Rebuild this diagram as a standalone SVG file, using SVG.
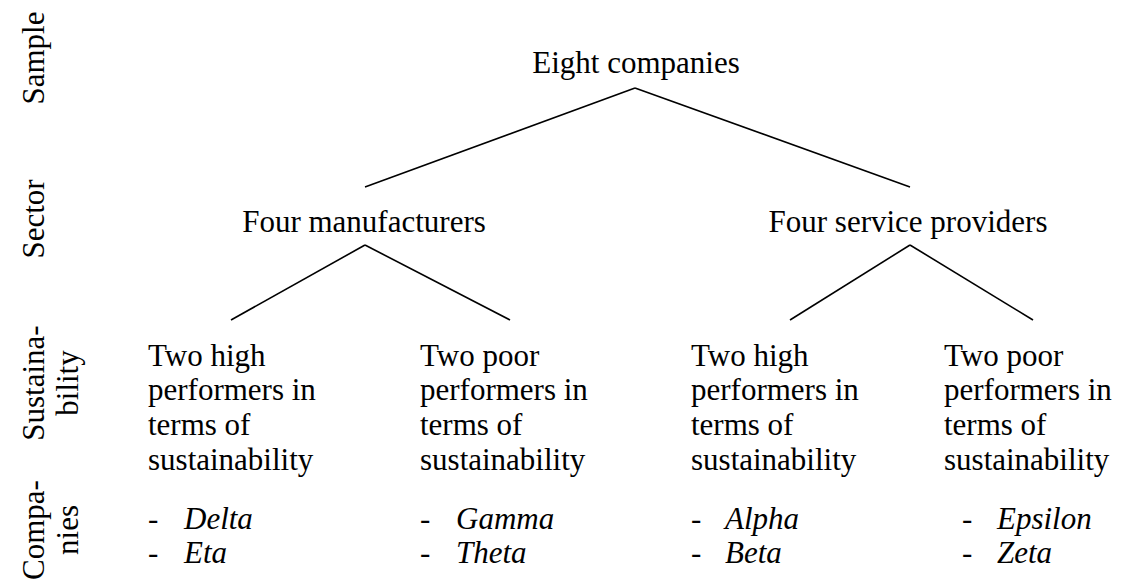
<svg xmlns="http://www.w3.org/2000/svg" width="1122" height="586" viewBox="0 0 1122 586">
<rect width="1122" height="586" fill="#fff"/>
<g id="axis">
<text font-family="Times New Roman, Liberation Serif, serif" font-size="31" text-anchor="middle" transform="translate(44,58) rotate(-90)">Sample</text>
<text font-family="Times New Roman, Liberation Serif, serif" font-size="31" text-anchor="middle" transform="translate(44,219) rotate(-90)">Sector</text>
<text font-family="Times New Roman, Liberation Serif, serif" font-size="31" text-anchor="middle" transform="translate(44,383) rotate(-90)"><tspan x="0" y="0">Sustaina-</tspan><tspan x="0" y="34">bility</tspan></text>
<text font-family="Times New Roman, Liberation Serif, serif" font-size="31" text-anchor="middle" transform="translate(44,530) rotate(-90)"><tspan x="0" y="0">Compa-</tspan><tspan x="0" y="34">nies</tspan></text>
</g>
<g id="connectors" stroke="#000" stroke-width="1.6">
<line x1="635" y1="88" x2="365" y2="187"/>
<line x1="635" y1="88" x2="910" y2="187"/>
<line x1="365" y1="245" x2="231" y2="320"/>
<line x1="365" y1="245" x2="510" y2="320"/>
<line x1="910" y1="245" x2="790" y2="320"/>
<line x1="910" y1="245" x2="1033" y2="320"/>
</g>
<g id="root"><text font-family="Times New Roman, Liberation Serif, serif" font-size="31" text-anchor="middle" x="636" y="73">Eight companies</text></g>
<g id="manufacturers"><text font-family="Times New Roman, Liberation Serif, serif" font-size="31" text-anchor="middle" x="364" y="232">Four manufacturers</text></g>
<g id="services"><text font-family="Times New Roman, Liberation Serif, serif" font-size="31" text-anchor="middle" x="908" y="232">Four service providers</text></g>
<g id="m-high"><text font-family="Times New Roman, Liberation Serif, serif" font-size="31"><tspan x="148" y="366">Two high</tspan><tspan x="148" y="400">performers in</tspan><tspan x="148" y="435">terms of</tspan><tspan x="148" y="470">sustainability</tspan><tspan x="148" y="529">-</tspan><tspan x="184" y="529" font-style="italic">Delta</tspan><tspan x="148" y="563">-</tspan><tspan x="184" y="563" font-style="italic">Eta</tspan></text></g>
<g id="m-poor"><text font-family="Times New Roman, Liberation Serif, serif" font-size="31"><tspan x="420" y="366">Two poor</tspan><tspan x="420" y="400">performers in</tspan><tspan x="420" y="435">terms of</tspan><tspan x="420" y="470">sustainability</tspan><tspan x="420" y="529">-</tspan><tspan x="456" y="529" font-style="italic">Gamma</tspan><tspan x="420" y="563">-</tspan><tspan x="456" y="563" font-style="italic">Theta</tspan></text></g>
<g id="s-high"><text font-family="Times New Roman, Liberation Serif, serif" font-size="31"><tspan x="691" y="366">Two high</tspan><tspan x="691" y="400">performers in</tspan><tspan x="691" y="435">terms of</tspan><tspan x="691" y="470">sustainability</tspan><tspan x="691" y="529">-</tspan><tspan x="725" y="529" font-style="italic">Alpha</tspan><tspan x="691" y="563">-</tspan><tspan x="725" y="563" font-style="italic">Beta</tspan></text></g>
<g id="s-poor"><text font-family="Times New Roman, Liberation Serif, serif" font-size="31"><tspan x="944" y="366">Two poor</tspan><tspan x="944" y="400">performers in</tspan><tspan x="944" y="435">terms of</tspan><tspan x="944" y="470">sustainability</tspan><tspan x="962" y="529">-</tspan><tspan x="997" y="529" font-style="italic">Epsilon</tspan><tspan x="962" y="563">-</tspan><tspan x="997" y="563" font-style="italic">Zeta</tspan></text></g>
</svg>
